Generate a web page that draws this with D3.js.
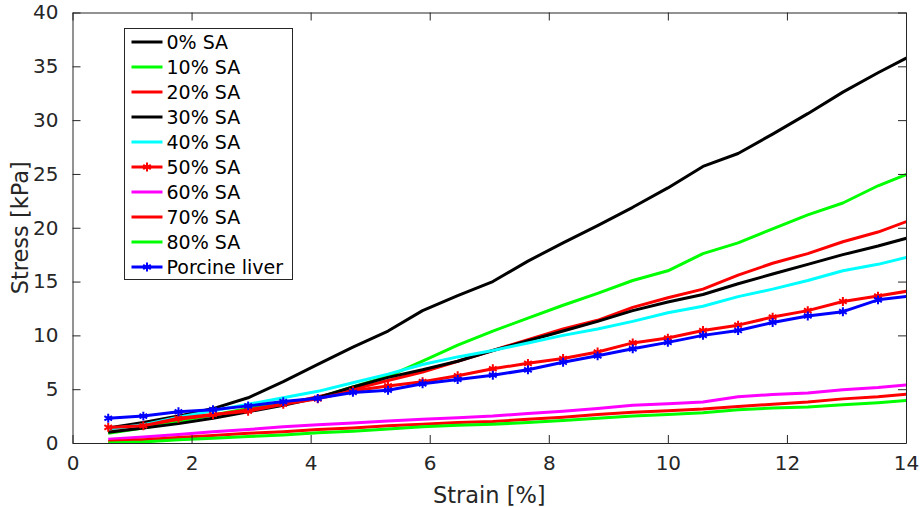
<!DOCTYPE html>
<html>
<head>
<meta charset="utf-8">
<script src="https://cdn.jsdelivr.net/npm/d3@7"></script>
<style>
  body { margin: 0; background: #fff; }
  svg { display: block; font-family: "DejaVu Sans", sans-serif; }
</style>
</head>
<body>
<div id="chart"></div>
<script>
// strain sample points [%]
const strain = [0.6, 1.19, 1.78, 2.36, 2.95, 3.54, 4.12, 4.71, 5.3, 5.88, 6.47, 7.06,
  7.65, 8.24, 8.82, 9.41, 10, 10.59, 11.18, 11.76, 12.35, 12.94, 13.53, 14.12];

// stress [kPa] for each sample
const sa0 = [1.4, 1.9, 2.5, 3.2, 4.2, 5.7, 7.3, 8.9, 10.4, 12.3, 13.7, 15.0,
  16.9, 18.6, 20.2, 21.9, 23.7, 25.7, 26.9, 28.7, 30.6, 32.6, 34.4, 36.1];
const sa10 = [0.9, 1.4, 2.0, 2.6, 3.2, 3.7, 4.2, 5.2, 6.2, 7.6, 9.1, 10.4,
  11.6, 12.8, 13.9, 15.1, 16.0, 17.6, 18.6, 19.9, 21.2, 22.3, 23.9, 25.2];
const sa20 = [1.2, 1.6, 2.2, 2.6, 3.1, 3.6, 4.3, 5.0, 5.8, 6.6, 7.6, 8.6,
  9.6, 10.6, 11.4, 12.6, 13.5, 14.3, 15.6, 16.7, 17.6, 18.7, 19.6, 20.8];
const sa30 = [1.0, 1.4, 1.8, 2.3, 2.9, 3.5, 4.2, 5.2, 6.1, 6.8, 7.6, 8.6,
  9.5, 10.4, 11.3, 12.3, 13.1, 13.8, 14.8, 15.7, 16.6, 17.5, 18.3, 19.2];
const sa40 = [1.3, 1.7, 2.4, 3.0, 3.6, 4.2, 4.8, 5.6, 6.4, 7.3, 8.0, 8.6,
  9.3, 10.0, 10.6, 11.3, 12.1, 12.7, 13.6, 14.3, 15.1, 16.0, 16.6, 17.4];
const sa50 = [1.45, 1.6, 2.3, 2.65, 2.95, 3.6, 4.1, 4.85, 5.3, 5.7, 6.25, 6.9,
  7.4, 7.85, 8.45, 9.3, 9.75, 10.45, 10.95, 11.7, 12.3, 13.15, 13.65, 14.2];
const sa60 = [0.35, 0.55, 0.8, 1.05, 1.25, 1.5, 1.7, 1.85, 2.05, 2.2, 2.35, 2.5,
  2.75, 2.95, 3.2, 3.5, 3.65, 3.8, 4.3, 4.5, 4.65, 4.95, 5.15, 5.45];
const sa70 = [0.15, 0.3, 0.5, 0.7, 0.9, 1.05, 1.25, 1.4, 1.6, 1.75, 1.9, 2.0,
  2.2, 2.4, 2.65, 2.85, 3.0, 3.15, 3.4, 3.6, 3.8, 4.1, 4.3, 4.6];
const sa80 = [0.0, 0.1, 0.3, 0.45, 0.6, 0.75, 0.95, 1.1, 1.3, 1.5, 1.65, 1.75,
  1.9, 2.1, 2.3, 2.5, 2.65, 2.8, 3.1, 3.25, 3.35, 3.55, 3.75, 4.0];
const porcine = [2.3, 2.5, 2.9, 3.1, 3.45, 3.85, 4.15, 4.7, 4.9, 5.5, 5.9, 6.3,
  6.8, 7.5, 8.1, 8.75, 9.35, 10.0, 10.45, 11.2, 11.8, 12.2, 13.3, 13.7];

const names = ["0% SA", "10% SA", "20% SA", "30% SA", "40% SA", "50% SA",
  "60% SA", "70% SA", "80% SA", "Porcine liver"];
const colors = ["#000000", "#00ff00", "#ff0000", "#000000", "#00ffff", "#ff0000",
  "#ff00ff", "#ff0000", "#00ff00", "#0000ff"];
const hasMarker = [false, false, false, false, false, true, false, false, false, true];
const seriesValues = [sa0, sa10, sa20, sa30, sa40, sa50, sa60, sa70, sa80, porcine];

const xTicks = [0, 2, 4, 6, 8, 10, 12, 14];
const yTicks = [0, 5, 10, 15, 20, 25, 30, 35, 40];

const width = 923, height = 507;
const margin = { top: 12.5, right: 17, bottom: 64, left: 72.5 };
const innerW = width - margin.left - margin.right;
const innerH = height - margin.top - margin.bottom;
const axisColor = "#262626";

const svg = d3.select("#chart").append("svg")
  .attr("width", width).attr("height", height);

const x = d3.scaleLinear().domain([0, 14]).range([0, innerW]);
const y = d3.scaleLinear().domain([0, 40]).range([innerH, 0]);

const g = svg.append("g")
  .attr("transform", `translate(${margin.left},${margin.top})`);

svg.append("defs").append("clipPath").attr("id", "plotClip")
  .append("rect").attr("x", 0).attr("y", 0).attr("width", innerW).attr("height", innerH);

const series = names.map((name, i) => ({
  name: name,
  color: colors[i],
  marker: hasMarker[i],
  points: strain.map((s, j) => ({ x: s, y: seriesValues[i][j] }))
}));

const line = d3.line().x(d => x(d.x)).y(d => y(d.y));
const asterisk = d3.symbol().type(d3.symbolAsterisk).size(55);

const plot = g.append("g").attr("clip-path", "url(#plotClip)");

series.forEach(s => {
  plot.append("path")
    .datum(s.points)
    .attr("fill", "none")
    .attr("stroke", s.color)
    .attr("stroke-width", 3)
    .attr("stroke-linejoin", "round")
    .attr("d", line);
  if (s.marker) {
    plot.selectAll(null)
      .data(s.points)
      .enter()
      .append("path")
      .attr("transform", d => `translate(${x(d.x)},${y(d.y)})`)
      .attr("d", asterisk)
      .attr("fill", "none")
      .attr("stroke", s.color)
      .attr("stroke-width", 2);
  }
});

// axes: ticks point inward, box drawn on all four sides
const tickLen = 8;
const xAxis = d3.axisBottom(x).tickValues(xTicks).tickSizeInner(-tickLen).tickSizeOuter(0).tickPadding(13);
const yAxis = d3.axisLeft(y).tickValues(yTicks).tickSizeInner(-tickLen).tickSizeOuter(0).tickPadding(14);
const xTop = d3.axisTop(x).tickValues(xTicks).tickSizeInner(-tickLen).tickSizeOuter(0).tickFormat("");
const yRight = d3.axisRight(y).tickValues(yTicks).tickSizeInner(-tickLen).tickSizeOuter(0).tickFormat("");

function styleAxis(sel) {
  sel.selectAll(".domain").attr("stroke", axisColor);
  sel.selectAll(".tick line").attr("stroke", axisColor);
  sel.selectAll(".tick text")
    .attr("fill", axisColor)
    .style("font-size", "20px")
    .style("font-family", "DejaVu Sans, sans-serif");
}

g.append("g").attr("transform", `translate(0,${innerH})`).call(xAxis).call(styleAxis);
g.append("g").call(yAxis).call(styleAxis);
g.append("g").call(xTop).call(styleAxis);
g.append("g").attr("transform", `translate(${innerW},0)`).call(yRight).call(styleAxis);

// axis labels
svg.append("text")
  .attr("x", margin.left + innerW / 2)
  .attr("y", 503)
  .attr("text-anchor", "middle")
  .attr("fill", axisColor)
  .style("font-size", "22.5px")
  .text("Strain [%]");

svg.append("text")
  .attr("transform", `translate(28,${margin.top + innerH / 2}) rotate(-90)`)
  .attr("text-anchor", "middle")
  .attr("fill", axisColor)
  .style("font-size", "22.5px")
  .text("Stress [kPa]");

// legend
const legend = svg.append("g").attr("transform", "translate(124.5,28.5)");
legend.append("rect")
  .attr("width", 168).attr("height", 251)
  .attr("fill", "#fff")
  .attr("stroke", axisColor)
  .attr("stroke-width", 1);

const rowH = 25;
const items = legend.selectAll(".item")
  .data(series)
  .enter()
  .append("g")
  .attr("class", "item")
  .attr("transform", (d, i) => `translate(0,${13.5 + i * rowH})`);

items.append("line")
  .attr("x1", 7).attr("x2", 38)
  .attr("stroke", d => d.color)
  .attr("stroke-width", 3);

items.filter(d => d.marker)
  .append("path")
  .attr("transform", "translate(22.5,0)")
  .attr("d", asterisk)
  .attr("fill", "none")
  .attr("stroke", d => d.color)
  .attr("stroke-width", 2);

items.append("text")
  .attr("x", 42)
  .attr("dy", "0.36em")
  .attr("fill", "#000")
  .style("font-size", "19px")
  .text(d => d.name);
</script>
</body>
</html>
